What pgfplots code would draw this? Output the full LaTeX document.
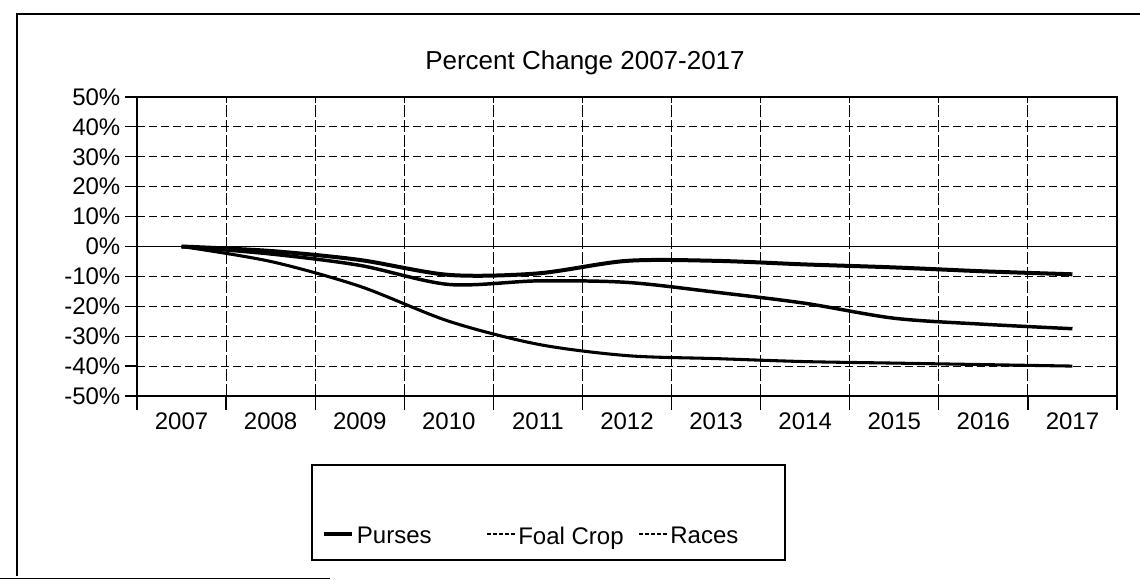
\documentclass[border=0pt]{standalone}
\usepackage{pgfplots}
\pgfplotsset{compat=1.18}
\usepackage{fontspec}
\setmainfont{Liberation Sans}
\begin{document}
\begin{tikzpicture}
\path[use as bounding box] (0pt,0pt) rectangle (855pt,435pt);
% chart area frame
\draw[line width=1.2pt] (12.75pt,3pt) -- (12.75pt,424.5pt) -- (855pt,424.5pt);
\draw[line width=1.2pt] (0pt,1.2pt) -- (247.5pt,1.2pt);
\begin{axis}[
  at={(102.75pt,138pt)}, anchor=south west,
  scale only axis, width=735pt, height=224.25pt,
  xmin=-0.5, xmax=10.5, ymin=-50, ymax=50,
  axis line style={black, line width=0.9pt},
  tick pos=left, tick align=outside,
  xtick={0,...,10},
  xticklabels={2007,2008,2009,2010,2011,2012,2013,2014,2015,2016,2017},
  minor xtick={-0.5,0.5,...,10.5},
  major x tick style={draw=none},
  minor x tick style={black, line width=0.9pt},
  major tick length=9pt, minor tick length=10.5pt,
  ytick={-50,-40,...,50},
  yticklabels={-50\%,-40\%,-30\%,-20\%,-10\%,0\%,10\%,20\%,30\%,40\%,50\%},
  ytick style={black, line width=0.9pt},
  ymajorgrids=true, xminorgrids=true,
  major grid style={black, line width=0.7pt, dash pattern=on 6pt off 3pt},
  minor grid style={black, line width=0.8pt, dash pattern=on 9pt off 2pt},
  extra y ticks={0}, extra y tick labels={},
  extra y tick style={grid=major, major grid style={black, solid, line width=0.9pt}},
  ticklabel style={font=\fontsize{18}{20}\selectfont},
  legend style={at={(0.1888,-0.47)}, anchor=west, draw=none, fill=none,
    inner sep=0pt, legend columns=3,
    font=\fontsize{18}{20}\selectfont,
    /tikz/every even column/.append style={column sep=9pt}},
  legend cell align=left,
  legend image code/.code={\draw[#1] (0pt,2pt) -- (21pt,2pt);},
]
\addplot[black, line width=3pt, smooth, tension=0.5] coordinates {
(0,0) (1,-1.5) (2,-4.5) (3,-9.5) (4,-9) (5,-4.8) (6,-4.8) (7,-6) (8,-7) (9,-8.3) (10,-9.3)};
\addlegendentry{Purses\rule{30pt}{0pt}}
\addplot[black, line width=2.3pt, smooth, tension=0.5, forget plot] coordinates {
(0,0) (1,-5) (2,-13.3) (3,-25) (4,-32.7) (5,-36.5) (6,-37.5) (7,-38.5) (8,-39) (9,-39.5) (10,-40)};
\addlegendimage{black, line width=1pt, dash pattern=on 3pt off 1.5pt}
\addlegendentry{Foal Crop}
\addplot[black, line width=2.6pt, smooth, tension=0.5, forget plot] coordinates {
(0,0) (1,-2.5) (2,-6.3) (3,-12.7) (4,-11.5) (5,-12) (6,-15.3) (7,-19) (8,-24) (9,-26) (10,-27.5)};
\addlegendimage{black, line width=1pt, dash pattern=on 3pt off 1.5pt}
\addlegendentry{Races}
\end{axis}
\node[anchor=base, font=\fontsize{19.5}{22}\selectfont] at (438.75pt,382.5pt) {Percent Change 2007-2017};
\draw[line width=1.2pt] (234pt,86.25pt) rectangle (588.75pt,15pt);
\end{tikzpicture}
\end{document}
